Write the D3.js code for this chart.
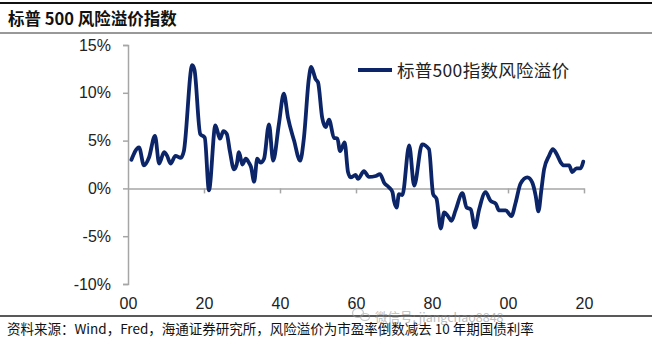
<!DOCTYPE html>
<html>
<head>
<meta charset="utf-8">
<script src="https://cdn.jsdelivr.net/npm/d3@7"></script>
<style>
  html, body { margin: 0; padding: 0; background: #fff; }
  svg { display: block; }
</style>
</head>
<body>
<svg id="chart" width="652" height="344"></svg>
<script>
// S&P 500 risk premium: earnings yield minus 10-year Treasury yield (%)
const years = [
  1900.9, 1902.9, 1904.2, 1905.5, 1907.1, 1908.2, 1909.5, 1910.3, 1911.2, 1912.5,
  1913.9, 1914.7, 1916.9, 1917.5, 1919.0, 1920.2, 1921.3, 1923.0, 1924.2, 1925.1,
  1926.0, 1926.8, 1927.9, 1928.6, 1929.2, 1930.1, 1931.0, 1931.8, 1932.4, 1933.2,
  1934.0, 1934.9, 1935.8, 1937.1, 1938.2, 1939.7, 1941.0, 1942.1, 1943.7, 1945.3,
  1946.3, 1947.6, 1948.2, 1949.4, 1950.0, 1951.1, 1952.0, 1952.9, 1954.2, 1955.1,
  1955.8, 1957.0, 1957.9, 1958.6, 1959.9, 1960.5, 1962.1, 1963.4, 1965.2, 1966.3,
  1967.4, 1968.7, 1969.6, 1970.0, 1970.7, 1971.3, 1972.2, 1974.0, 1975.3, 1977.4,
  1979.2, 1980.3, 1981.2, 1982.3, 1983.2, 1984.2, 1985.1, 1986.2, 1988.0, 1989.1,
  1990.2, 1991.3, 1992.4, 1994.1, 1995.4, 1996.8, 1997.6, 1999.4, 2000.9, 2002.0,
  2003.3, 2005.1, 2006.4, 2007.3, 2008.0, 2008.8, 2009.5, 2010.8, 2011.8, 2012.8,
  2013.9, 2014.7, 2016.1, 2016.9, 2018.0, 2019.1, 2019.8
];
const premium = [
  3.0, 4.3, 2.4, 3.2, 5.5, 2.6, 3.8, 3.4, 2.6, 3.4,
  3.2, 3.9, 12.9, 12.4, 5.7, 5.3, -0.2, 6.6, 5.2, 6.0,
  5.7, 3.9, 2.0, 2.5, 3.8, 2.5, 3.1, 2.7, 2.2, 0.7,
  3.1, 2.7, 3.1, 6.7, 2.9, 6.7, 9.9, 7.4, 5.0, 2.9,
  5.3, 11.5, 12.7, 11.4, 11.1, 7.4, 6.4, 7.2, 5.3, 5.2,
  3.9, 4.8, 1.7, 1.15, 1.4, 1.0, 1.8, 1.2, 1.3, 1.5,
  0.6, 0.1, -0.4, -1.3, -2.0, -0.6, -0.7, 4.5, 0.3, 4.6,
  4.1, -0.6, -1.1, -4.2, -2.5, -2.9, -3.4, -2.3, -0.5, -2.0,
  -2.2, -4.1, -2.2, -0.4, -1.3, -1.6, -2.3, -2.3, -2.9, -1.5,
  0.5, 1.15, 0.6, -0.8, -2.4, -0.1, 2.0, 3.4, 4.1, 3.6,
  2.7, 2.4, 2.4, 1.7, 2.1, 2.1, 2.8
];
const yTicks = [15, 10, 5, 0, -5, -10];
const xTicks = [1900, 1920, 1940, 1960, 1980, 2000, 2020];
const xTickLabels = ["00", "20", "40", "60", "80", "00", "20"];

const titleText = "标普 500 风险溢价指数";
const seriesName = "标普500指数风险溢价";
const sourceText = "资料来源：Wind，Fred，海通证券研究所，风险溢价为市盈率倒数减去 10 年期国债利率";
const watermarkText = "微信号: jiangchao8848";

const latin = "'Liberation Sans', Arial, 'Noto Sans CJK SC', sans-serif";
const cjk = "'Noto Sans CJK SC', 'Liberation Sans', sans-serif";
const lineColor = "#0b2568";
const axisColor = "#a6a6a6";

const svg = d3.select("#chart");

// header rules and title
svg.append("line").attr("x1", 0).attr("x2", 652).attr("y1", 3).attr("y2", 3)
  .attr("stroke", "#111").attr("stroke-width", 2);
svg.append("line").attr("x1", 0).attr("x2", 652).attr("y1", 33).attr("y2", 33)
  .attr("stroke", "#333").attr("stroke-width", 1);
svg.append("text").attr("x", 8).attr("y", 25)
  .attr("font-family", cjk).attr("font-weight", "bold").attr("font-size", 16.5)
  .attr("fill", "#111").text(titleText);

// scales
const x = d3.scaleLinear().domain([1900, 2020]).range([128, 584]);
const y = d3.scaleLinear().domain([-10, 15]).range([284, 45]);

// y axis
const yAxis = svg.append("g").attr("transform", `translate(${x(1900)},0)`)
  .call(d3.axisLeft(y).tickValues(yTicks).tickSize(5).tickPadding(12)
    .tickFormat(d => d + "%"));
yAxis.select(".domain").attr("stroke", axisColor).attr("stroke-width", 1.5);
yAxis.selectAll(".tick line").attr("stroke", axisColor).attr("stroke-width", 1.5);
yAxis.selectAll(".tick text").attr("font-family", latin).attr("font-size", 16)
  .attr("fill", "#222");

// x axis along the zero line
const xAxis = svg.append("g").attr("transform", `translate(0,${y(0)})`)
  .call(d3.axisBottom(x).tickValues(xTicks).tickSize(5).tickSizeOuter(0)
    .tickFormat((d, i) => xTickLabels[i]));
xAxis.select(".domain").attr("stroke", axisColor).attr("stroke-width", 1.5);
xAxis.selectAll(".tick line").attr("stroke", axisColor).attr("stroke-width", 1.5);
xAxis.selectAll(".tick text").attr("font-family", latin).attr("font-size", 16)
  .attr("fill", "#222").attr("y", 0).attr("dy", 0)
  .attr("transform", `translate(0,${309 - y(0)})`);
xAxis.selectAll(".tick").filter(d => d === 1900).select("line").remove();

// series line
const data = years.map((yr, i) => ({ yr, v: premium[i] }));
const line = d3.line().x(d => x(d.yr)).y(d => y(d.v)).curve(d3.curveMonotoneX);
svg.append("path").datum(data).attr("d", line)
  .attr("fill", "none").attr("stroke", lineColor).attr("stroke-width", 3.8)
  .attr("stroke-linejoin", "round").attr("stroke-linecap", "round");

// legend
svg.append("line").attr("x1", 358).attr("x2", 392).attr("y1", 70).attr("y2", 70)
  .attr("stroke", lineColor).attr("stroke-width", 4);
svg.append("text").attr("x", 397).attr("y", 77)
  .attr("font-family", cjk).attr("font-size", 17.5).attr("letter-spacing", 0.3)
  .attr("fill", "#222").text(seriesName);

// footer rule and source note
svg.append("line").attr("x1", 0).attr("x2", 652).attr("y1", 316).attr("y2", 316)
  .attr("stroke", "#222").attr("stroke-width", 1.5);
svg.append("text").attr("x", 7).attr("y", 334)
  .attr("font-family", cjk).attr("font-size", 13.5).attr("fill", "#111")
  .text(sourceText);

// account watermark, sitting on the footer rule
const wm = svg.append("g").attr("opacity", 0.55);
wm.append("ellipse").attr("cx", 358).attr("cy", 313).attr("rx", 5.5).attr("ry", 4.5)
  .attr("fill", "none").attr("stroke", "#999").attr("stroke-width", 1.2);
wm.append("ellipse").attr("cx", 365).attr("cy", 317).attr("rx", 4.5).attr("ry", 3.5)
  .attr("fill", "none").attr("stroke", "#999").attr("stroke-width", 1.2);
wm.append("text").attr("x", 375).attr("y", 321.5)
  .attr("font-family", cjk).attr("font-size", 12.5).attr("fill", "#888")
  .text(watermarkText);
</script>
</body>
</html>
